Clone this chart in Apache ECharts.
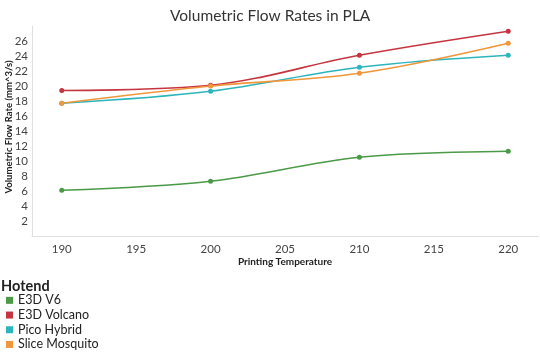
<!DOCTYPE html>
<html>
<head>
<meta charset="utf-8">
<script src="https://cdn.jsdelivr.net/npm/echarts@6/dist/echarts.min.js"></script>
<style>
  html, body { margin: 0; padding: 0; background: #fff; }
  #chart { width: 540px; height: 352px; }
</style>
</head>
<body>
<div id="chart"></div>
<script>
// temperatures on the x axis
const temps = [190, 200, 210, 220]
const xTicks = [190, 195, 200, 205, 210, 215, 220]
const yTicks = [2, 4, 6, 8, 10, 12, 14, 16, 18, 20, 22, 24, 26]

// flow rates (mm^3/s)
const e3dV6 = [6.1, 7.3, 10.5, 11.3]
const e3dVolcano = [19.4, 20.1, 24.1, 27.3]
const picoHybrid = [17.7, 19.3, 22.5, 24.1]
const sliceMosquito = [17.7, 20.0, 21.7, 25.7]

const names = ['E3D V6', 'E3D Volcano', 'Pico Hybrid', 'Slice Mosquito']
const colors = ['#4a9a47', '#c6353f', '#2db5bd', '#f0963b']
const allData = [e3dV6, e3dVolcano, picoHybrid, sliceMosquito]

const font = 'Lato, "Open Sans", sans-serif'

const chart = echarts.init(document.getElementById('chart'))

chart.setOption({
  animation: false,
  color: colors,
  textStyle: { fontFamily: font },
  title: [
    {
      text: 'Volumetric Flow Rates in PLA',
      left: 165,
      top: 3,
      textStyle: { fontSize: 15.5, fontWeight: 'normal', color: '#333', fontFamily: font }
    },
    {
      text: 'Hotend',
      left: -4,
      top: 274,
      textStyle: { fontSize: 14.5, fontWeight: 'bold', color: '#222', fontFamily: font }
    }
  ],
  legend: {
    orient: 'vertical',
    left: 1,
    top: 288,
    height: 80,
    icon: 'rect',
    itemWidth: 7,
    itemHeight: 7,
    itemGap: 0,
    textStyle: { fontSize: 12.5, lineHeight: 14.7, color: '#222', fontFamily: font },
    data: names
  },
  grid: { left: 32, right: 2, top: 26, bottom: 116, outerBoundsMode: 'none' },
  xAxis: {
    type: 'value',
    min: 188,
    max: 222,
    name: 'Printing Temperature',
    nameLocation: 'middle',
    nameGap: 21,
    nameMoveOverlap: false,
    nameTextStyle: { fontSize: 10, fontWeight: 'bold', color: '#222' },
    axisLine: { show: true, lineStyle: { color: '#e0e0e0' } },
    axisTick: { show: false },
    axisLabel: { customValues: xTicks, fontSize: 11.5, color: '#444', margin: 7 },
    splitLine: { show: false }
  },
  yAxis: {
    type: 'value',
    min: 0,
    max: 28,
    name: 'Volumetric Flow Rate (mm^3/s)',
    nameLocation: 'middle',
    nameGap: 18,
    nameMoveOverlap: false,
    nameTextStyle: { fontSize: 9.5, fontWeight: 'bold', color: '#222', padding: [0, 0, 0, 8] },
    axisLine: { show: true, lineStyle: { color: '#e0e0e0' } },
    axisTick: { show: false },
    axisLabel: { customValues: yTicks, fontSize: 11.5, color: '#444', margin: 4 },
    splitLine: { show: false }
  },
  series: names.map((n, i) => ({
    name: n,
    type: 'line',
    smooth: 0.35,
    symbol: 'circle',
    symbolSize: 5,
    lineStyle: { width: 1.6 },
    data: temps.map((t, j) => [t, allData[i][j]])
  }))
})
</script>
</body>
</html>
